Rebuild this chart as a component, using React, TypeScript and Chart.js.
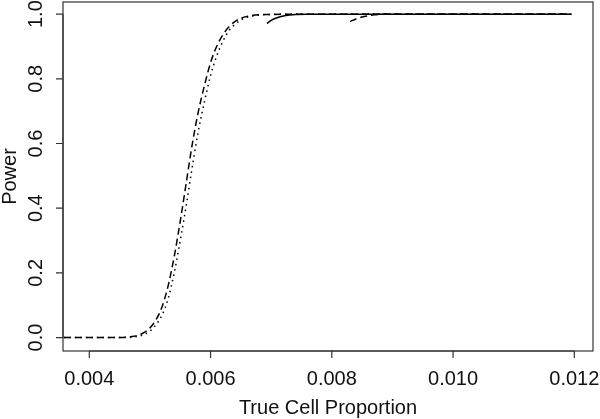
import React, { useEffect, useRef } from "react";
import { Chart, registerables } from "chart.js";

Chart.register(...registerables);

// Tick labels
const xTicks = [0.004, 0.006, 0.008, 0.01, 0.012];
const yTicks = [0, 0.2, 0.4, 0.6, 0.8, 1.0];
const xTitle = "True Cell Proportion";
const yTitle = "Power";

// Series 1 (dashed)
const x1 = [0.00358, 0.0044, 0.0046, 0.0047, 0.0048, 0.0049, 0.005, 0.0051, 0.0052, 0.0053, 0.0054, 0.0055, 0.0056, 0.0057, 0.0058, 0.0059, 0.006, 0.0061, 0.0062, 0.0063, 0.0064, 0.0065, 0.0066, 0.0068, 0.007, 0.0075, 0.01195];
const y1 = [0, 0, 0.001, 0.003, 0.007, 0.015, 0.03, 0.055, 0.095, 0.16, 0.25, 0.36, 0.48, 0.6, 0.7, 0.78, 0.85, 0.9, 0.935, 0.96, 0.977, 0.987, 0.993, 0.998, 0.999, 1, 1];

// Series 2 (dotted)
const x2 = [0.00358, 0.0045, 0.0047, 0.0048, 0.0049, 0.005, 0.0051, 0.0052, 0.0053, 0.0054, 0.0055, 0.0056, 0.0057, 0.0058, 0.0059, 0.006, 0.0061, 0.0062, 0.0063, 0.0064, 0.0065, 0.0066, 0.0068, 0.007, 0.0075, 0.01195];
const y2 = [0, 0, 0.001, 0.004, 0.009, 0.02, 0.04, 0.07, 0.12, 0.2, 0.3, 0.41, 0.53, 0.64, 0.73, 0.81, 0.87, 0.915, 0.948, 0.968, 0.982, 0.99, 0.997, 0.999, 1, 1];

// Series 3 (solid)
const x3 = [0.00693, 0.007, 0.0071, 0.0072, 0.0073, 0.0074, 0.0076, 0.008, 0.01195];
const y3 = [0.971, 0.981, 0.989, 0.994, 0.997, 0.999, 1, 1, 1];

// Series 4 (dashed)
const x4 = [0.0083, 0.0084, 0.0085, 0.0086, 0.0087, 0.0089, 0.0095, 0.01195];
const y4 = [0.977, 0.985, 0.991, 0.995, 0.998, 1, 1, 1];

const FONT = '"Liberation Sans", Arial, Helvetica, sans-serif';

const toPts = (xs: number[], ys: number[]) => xs.map((x, i) => ({ x, y: ys[i] }));

const frame = {
  id: "rframe",
  afterDraw(chart: any) {
    const { ctx, chartArea: a, scales } = chart;
    const xs = scales.x;
    const ys = scales.y;
    ctx.save();
    ctx.strokeStyle = "#333";
    ctx.lineWidth = 1.2;
    ctx.strokeRect(a.left, a.top, a.right - a.left, a.bottom - a.top);
    ctx.fillStyle = "#111";
    ctx.font = `20px ${FONT}`;
    ctx.beginPath();
    const xp0 = xs.getPixelForValue(xTicks[0]);
    const xp1 = xs.getPixelForValue(xTicks[xTicks.length - 1]);
    ctx.moveTo(xp0, a.bottom);
    ctx.lineTo(xp1, a.bottom);
    xTicks.forEach((v) => {
      const p = xs.getPixelForValue(v);
      ctx.moveTo(p, a.bottom);
      ctx.lineTo(p, a.bottom + 7);
    });
    const yp0 = ys.getPixelForValue(yTicks[0]);
    const yp1 = ys.getPixelForValue(yTicks[yTicks.length - 1]);
    ctx.moveTo(a.left, yp0);
    ctx.lineTo(a.left, yp1);
    yTicks.forEach((v) => {
      const p = ys.getPixelForValue(v);
      ctx.moveTo(a.left, p);
      ctx.lineTo(a.left - 7, p);
    });
    ctx.stroke();
    ctx.textAlign = "center";
    ctx.textBaseline = "middle";
    xTicks.forEach((v) => {
      ctx.fillText(v.toFixed(3), xs.getPixelForValue(v), a.bottom + 28);
    });
    ctx.fillText(xTitle, (a.left + a.right) / 2, a.bottom + 57);
    yTicks.forEach((v) => {
      ctx.save();
      ctx.translate(a.left - 27, ys.getPixelForValue(v));
      ctx.rotate(-Math.PI / 2);
      ctx.fillText(v.toFixed(1), 0, 0);
      ctx.restore();
    });
    ctx.save();
    ctx.translate(10, (a.top + a.bottom) / 2);
    ctx.rotate(-Math.PI / 2);
    ctx.fillText(yTitle, 0, 0);
    ctx.restore();
    ctx.restore();
  },
};

export default function App() {
  const ref = useRef<HTMLCanvasElement>(null);
  useEffect(() => {
    document.body.style.margin = "0";
    const common = {
      borderColor: "#000",
      borderWidth: 1.5,
      pointRadius: 0,
      fill: false,
      cubicInterpolationMode: "monotone" as const,
    };
    const chart = new Chart(ref.current!, {
      type: "line",
      data: {
        datasets: [
          { ...common, data: toPts(x1, y1), borderDash: [7, 4] },
          { ...common, data: toPts(x2, y2), borderDash: [1.5, 4] },
          { ...common, data: toPts(x3, y3) },
          { ...common, data: toPts(x4, y4), borderDash: [7, 4] },
        ],
      },
      options: {
        animation: false,
        responsive: false,
        maintainAspectRatio: false,
        layout: { padding: { left: 63, right: 7, top: 2, bottom: 68 } },
        plugins: { legend: { display: false }, tooltip: { enabled: false } },
        scales: {
          x: { type: "linear", display: false, min: 0.003566, max: 0.012308 },
          y: { type: "linear", display: false, min: -0.0415, max: 1.0375 },
        },
      },
      plugins: [frame],
    });
    return () => chart.destroy();
  }, []);
  return (
    <div style={{ width: 600, height: 419, background: "#fff" }}>
      <canvas ref={ref} width={600} height={419} />
    </div>
  );
}
